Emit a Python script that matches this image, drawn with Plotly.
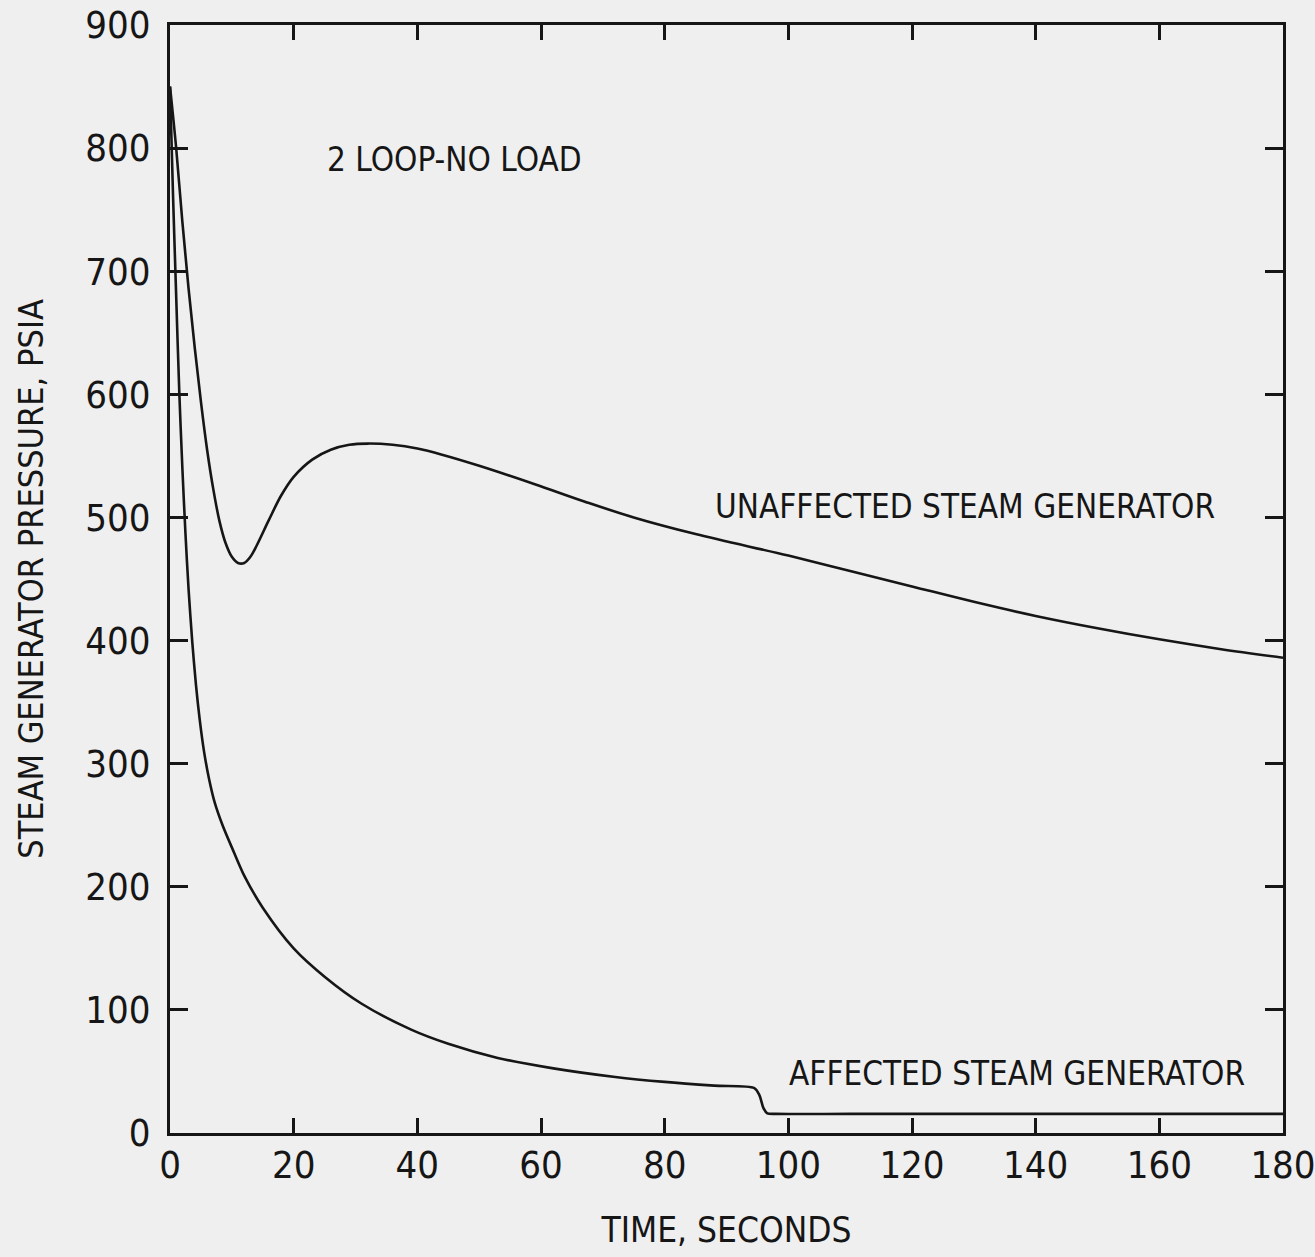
import plotly.graph_objects as go

# Steam generator pressure transient, 2 loop plant at no load (steamline break)
time_unaffected = [0, 1, 2, 3, 4, 5, 6, 7, 8, 9, 10, 11, 12, 13, 14, 16, 18, 20, 23,
                   26, 29, 32, 36, 40, 44, 50, 59, 67, 75, 85, 100, 110, 120, 130,
                   140, 150, 160, 170, 180]
pressure_unaffected = [850, 800, 740, 686, 638, 594, 555, 523, 497, 479, 468, 463, 463,
                       468, 477, 498, 518, 533, 547, 555, 559, 560, 559, 556, 551, 542,
                       527, 513, 500, 486.5, 469, 456.5, 444, 431.5, 420, 410, 401, 393,
                       386]

time_affected = [0, 0.5, 1.0, 1.5, 2.0, 2.5, 3.0, 3.6, 4.2, 4.8, 5.5, 6.3, 7.2, 8.5, 10,
                 12, 15, 20, 25, 31, 39, 45, 53, 62, 72, 80, 88, 94.5, 95.3, 96.0, 96.6,
                 98, 110, 130, 150, 180]
pressure_affected = [850, 760, 680, 602, 540, 487, 442, 399, 364, 336, 310, 288, 269,
                     250, 232, 209, 183, 150, 127, 105, 84, 72.5, 61, 52.5, 45.5, 41.5,
                     38.5, 36.5, 31, 20, 16, 15.5, 15.5, 15.5, 15.5, 15.5]

x_ticks = [0, 20, 40, 60, 80, 100, 120, 140, 160, 180]
y_ticks = [0, 100, 200, 300, 400, 500, 600, 700, 800, 900]

FONT = "Liberation Sans Narrow, DejaVu Sans Condensed, Arial Narrow, sans-serif"
INK = "#161616"
PAPER = "#efefef"

fig = go.Figure()
fig.add_trace(go.Scatter(x=time_unaffected, y=pressure_unaffected, mode="lines",
                         line=dict(color=INK, width=2.6, shape="spline", smoothing=1.0),
                         showlegend=False, hoverinfo="skip"))
fig.add_trace(go.Scatter(x=time_affected, y=pressure_affected, mode="lines",
                         line=dict(color=INK, width=2.6, shape="spline", smoothing=0.8),
                         showlegend=False, hoverinfo="skip"))

labels = [
    ("2 LOOP-NO LOAD", 46, 791),
    ("UNAFFECTED STEAM GENERATOR", 128.5, 509),
    ("AFFECTED STEAM GENERATOR", 137, 48),
]
for text, x, y in labels:
    fig.add_annotation(x=x, y=y, text=text, showarrow=False, xanchor="center",
                       yanchor="middle", font=dict(family=FONT, size=33, color=INK))

axis_common = dict(
    showline=True, linecolor=INK, linewidth=3, mirror="ticks",
    ticks="inside", tickcolor=INK, tickwidth=2.5,
    showgrid=False, zeroline=False, fixedrange=True,
    tickfont=dict(family=FONT, size=38, color=INK),
    ticklabeloverflow="allow",
)

fig.update_xaxes(range=[0, 180], tickvals=x_ticks, ticklen=15,
                 title=dict(text="TIME, SECONDS", font=dict(family=FONT, size=35, color=INK),
                            standoff=32),
                 ticklabelstandoff=-4, **axis_common)
fig.update_yaxes(range=[0, 900], tickvals=y_ticks, ticklen=18,
                 title=dict(text="STEAM GENERATOR PRESSURE, PSIA",
                            font=dict(family=FONT, size=34, color=INK), standoff=32),
                 ticklabelstandoff=9, **axis_common)

fig.update_layout(
    width=1315, height=1257,
    margin=dict(l=170, r=32, t=25, b=124, autoexpand=False),
    paper_bgcolor=PAPER, plot_bgcolor=PAPER,
    showlegend=False,
)

fig.write_html("out.html", config={"displayModeBar": False})
